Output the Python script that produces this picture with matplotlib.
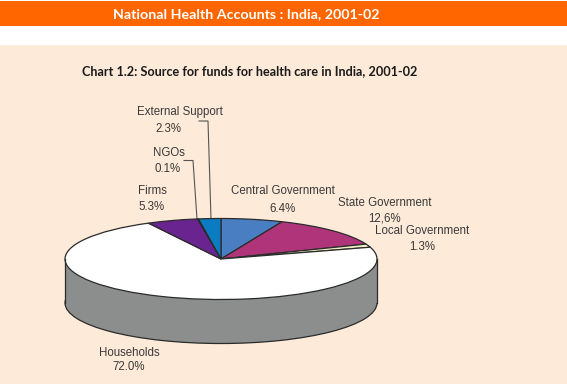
import matplotlib
matplotlib.use("Agg")
from matplotlib import pyplot as plt
from matplotlib.patches import Rectangle

sources = ["Central Government", "State Government", "Local Government", "Households", "Firms", "NGOs", "External Support"]
shares = [6.4, 12.6, 1.3, 72.0, 5.3, 0.1, 2.3]
share_labels = ["6.4%", "12,6%", "1.3%", "72.0%", "5.3%", "0.1%", "2.3%"]
colours = ["#4A7EC2", "#B0347A", "#F3EFC4", "#FFFFFF", "#6A2490", "#D0683C", "#0C7CC2"]

W, H = 567, 384
CX, CY, RX, RY, DEPTH = 221, 259, 156, 40.5, 44

# name x, name y, value x, value y
label_pos = {
    "Central Government": (283, 191.5, 282, 208.5),
    "State Government": (385, 202.5, 384, 218.5),
    "Local Government": (422, 230.5, 422, 246.5),
    "Households": (129, 352.5, 129, 367.5),
    "Firms": (152, 191.5, 152, 207.5),
    "NGOs": (169, 152.5, 168, 168.5),
    "External Support": (180, 112.5, 168, 128.5),
}

fig = plt.figure(figsize=(5.67, 3.84), dpi=100, facecolor="white")

# page furniture and labels, in pixels
bg = fig.add_axes([0, 0, 1, 1])
bg.set_xlim(0, W)
bg.set_ylim(H, 0)
bg.axis("off")
bg.add_patch(Rectangle((0, 1), W, 24.5, color="#FF6600", lw=0))
bg.add_patch(Rectangle((0, 45), W, H - 45, color="#FDEAD8", lw=0))
bg.text(246, 14, "National Health Accounts : India, 2001-02", color="white", fontsize=10.3,
        fontweight="bold", family="Lato", ha="center", va="center")
bg.text(250, 71, "Chart 1.2: Source for funds for health care in India, 2001-02", color="#1a1a1a",
        fontsize=9.1, fontweight="bold", family="Lato", ha="center", va="center")

for name, value in zip(sources, share_labels):
    nx, ny, vx, vy = label_pos[name]
    bg.text(nx, ny, name, fontsize=8.3, family="Liberation Sans", color="#3a3a3a", ha="center", va="center")
    bg.text(vx, vy, value, fontsize=8.3, family="Liberation Sans", color="#3a3a3a", ha="center", va="center")

# leader lines
bg.plot([199, 208, 211], [121, 121, 219], color="#555555", lw=0.8)
bg.plot([184, 193, 197], [160.5, 160.5, 219], color="#555555", lw=0.8)

# pie axes: one unit is RX across and RY down, so the circle comes out flattened
ax = fig.add_axes([0, 0, 1, 1])
ax.patch.set_alpha(0)
edge = {"edgecolor": "#2b2b2b", "linewidth": 0.9}
ax.pie([1], colors=["#8C8E8E"], center=(0, -DEPTH / RY), radius=1, wedgeprops=edge)
ax.add_patch(Rectangle((-1, -DEPTH / RY), 2, DEPTH / RY, facecolor="#8C8E8E", lw=0))
ax.plot([-1, -1], [0, -DEPTH / RY], color="#2b2b2b", lw=0.9)
ax.plot([1, 1], [0, -DEPTH / RY], color="#2b2b2b", lw=0.9)
ax.pie(shares, colors=colours, startangle=90, counterclock=False, radius=1, wedgeprops=edge)
ax.set_xlim(-CX / RX, (W - CX) / RX)
ax.set_ylim((CY - H) / RY, CY / RY)
ax.set_aspect("auto")
ax.axis("off")

fig.savefig("out.png", dpi=100)
